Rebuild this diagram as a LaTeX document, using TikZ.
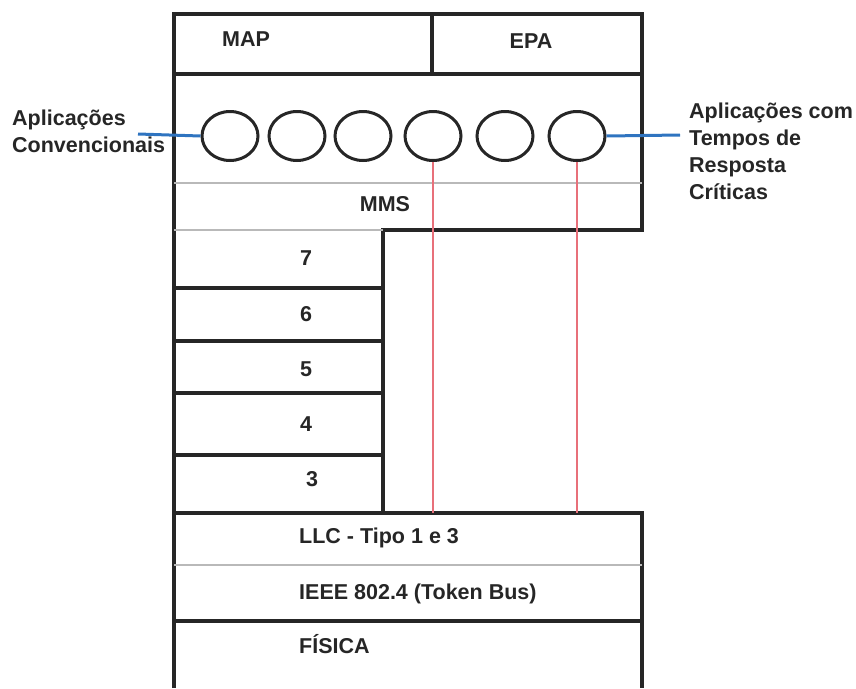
\documentclass[tikz,border=0pt]{standalone}
\usepackage{fontspec}
\setmainfont{Liberation Sans}
\usetikzlibrary{shapes.geometric}
\definecolor{ink}{HTML}{262626}
\definecolor{redline}{HTML}{E8707A}
\definecolor{blueline}{HTML}{2F74C0}
\begin{document}
\begin{tikzpicture}[x=1pt,y=-1pt,
  frame/.style={draw=ink,line width=3.2pt,line join=miter},
  faint/.style={draw=gray!55,line width=1.3pt},
  lbl/.style={font=\fontsize{21.5}{27}\selectfont\bfseries,text=ink,inner sep=0pt},
  cell/.style={lbl,text height=15pt,text depth=4pt},
  app/.style={ellipse,draw=ink,line width=3pt,minimum width=56pt,minimum height=49pt,inner sep=0pt},
  redconn/.style={draw=redline,line width=2.6pt},
  blueconn/.style={draw=blueline,line width=3pt}]
\useasboundingbox (0,0) rectangle (856,688);

% frame
\draw[frame] (174,688) -- (174,14) -- (642,14) -- (642,230) -- (383,230) -- (383,513);
\draw[frame] (432,14) -- (432,74);
\draw[frame] (174,74) -- (642,74);
\draw[faint] (174,183) -- (642,183);
\draw[faint] (174,230) -- (383,230);
\draw[frame] (174,288) -- (383,288);
\draw[frame] (174,341) -- (383,341);
\draw[frame] (174,393) -- (383,393);
\draw[frame] (174,455) -- (383,455);
\draw[frame] (174,513) -- (642,513) -- (642,688);
\draw[faint] (174,565) -- (642,565);
\draw[frame] (174,621) -- (642,621);

% texts
\node[cell] (map) at (246,41) {MAP};
\node[cell] (epa) at (531,43) {EPA};
\node[cell] (mms) at (385,206) {MMS};
\node[cell] (l7) at (306,260) {7};
\node[cell] (l6) at (306,316) {6};
\node[cell] (l5) at (306,371) {5};
\node[cell] (l4) at (306,426) {4};
\node[cell] (l3) at (312,481) {3};
\node[cell,anchor=west] (llc) at (299,538) {LLC - Tipo 1 e 3};
\node[cell,anchor=west] (ieee) at (299,594) {IEEE 802.4 (Token Bus)};
\node[cell,anchor=west] (fis) at (299,648) {FÍSICA};

% applications
\node[app] (c1) at (230,136) {};
\node[app] (c2) at (297,136) {};
\node[app] (c3) at (363,136) {};
\node[app] (c4) at (433,136) {};
\node[app] (c5) at (505,136) {};
\node[app] (c6) at (577,136) {};

% side labels
\node[lbl,anchor=west,align=left] (conv) at (12,131) {Aplicações\\Convencionais};
\node[lbl,anchor=west,align=left] (crit) at (689,151) {Aplicações com\\Tempos de\\Resposta\\Críticas};
\coordinate (lb) at (138,134);
\coordinate (rb) at (680,135);
\draw[blueconn] (lb) -- (c1.west);
\draw[blueconn] (c6.east) -- (rb);

% red connectors
\coordinate (llctop) at (0,513);
\draw[redconn] (c4.south) -- (c4.south |- llctop);
\draw[redconn] (c6.south) -- (c6.south |- llctop);
\end{tikzpicture}
\end{document}
